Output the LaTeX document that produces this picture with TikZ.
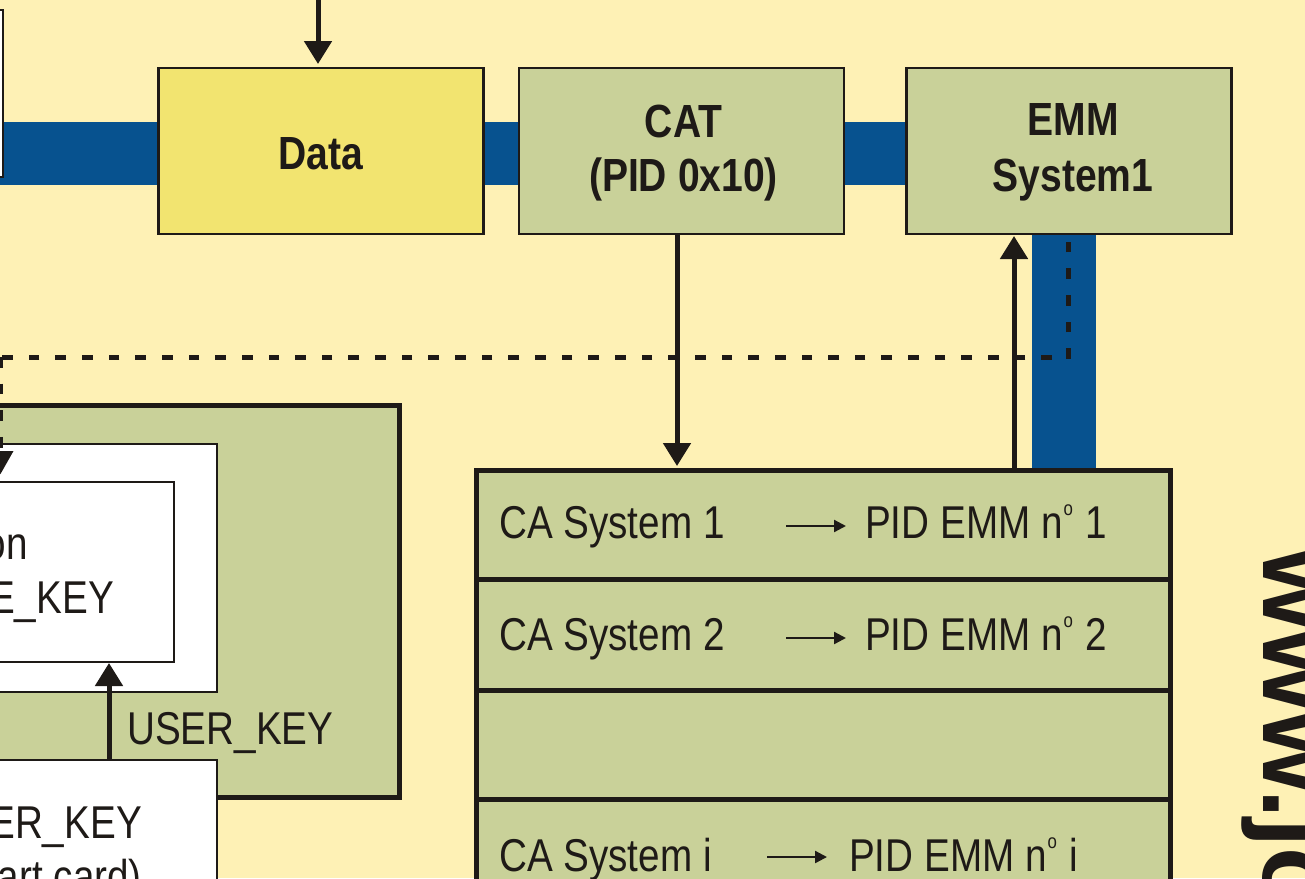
\documentclass[tikz,border=0pt]{standalone}
\usepackage{fontspec}
\setmainfont[FakeStretch=0.84]{Liberation Sans}
\newfontfamily\urlfont{Liberation Sans}
\usetikzlibrary{arrows.meta}
\definecolor{pagebg}{HTML}{FEF1B5}
\definecolor{sage}{HTML}{C9D199}
\definecolor{datay}{HTML}{F2E470}
\definecolor{bandblue}{HTML}{07528F}
\definecolor{ink}{HTML}{1E1A17}
\newcommand{\degsign}{\kern1pt\raisebox{22.5pt}{\fontsize{20}{20}\selectfont o}\kern2pt}
\tikzset{
  box/.style={draw=ink,line width=2.6pt,rectangle,inner sep=0pt,text=ink,align=center,font=\fontsize{46.5}{54}\selectfont\bfseries},
  panel/.style={draw=ink,rectangle,inner sep=0pt},
  txtlabel/.style={text=ink,inner sep=0pt,font=\fontsize{46}{54}\selectfont},
  band/.style={draw=none,fill=bandblue},
  flow/.style={draw=ink,line width=5pt,-{Triangle[length=23pt,width=27pt]}},
  smallarrow/.style={draw=ink,line width=2.3pt,-{Triangle[length=12pt,width=12pt]}},
  dashline/.style={draw=ink,line width=5pt,dash pattern=on 10.65pt off 16pt},
}
\begin{document}
\begin{tikzpicture}[x=1pt,y=-1pt]
\useasboundingbox (0,0) rectangle (1305,878);
\fill[pagebg] (0,0) rectangle (1305,878);
% bands
\fill[band] (0,122) rectangle (158,185);
\fill[band] (484,122) rectangle (519,185);
\fill[band] (845,122) rectangle (907,185);
\fill[band] (1032,234) rectangle (1096,470);
% top row
\node[box,fill=white,minimum width=106pt,minimum height=167pt] (src) at (-50,93.5) {};
\node[box,fill=datay,minimum width=325pt,minimum height=166pt] (data) at (321,151) {\rule{0pt}{38pt}Data};
\node[box,fill=sage,minimum width=325pt,minimum height=166pt] (cat) at (681.5,151) {\rule{0pt}{37pt}\hspace*{4pt}CAT\\\hspace*{4pt}(PID 0x10)};
\node[box,fill=sage,minimum width=325pt,minimum height=166pt] (emm) at (1069,151) {\rule{0pt}{35pt}\hspace*{8pt}EMM\\[2pt]\hspace*{8pt}System1};
\coordinate (feed) at (318,0);
% left panel
\node[panel,line width=5pt,fill=sage,minimum width=498pt,minimum height=392pt] (outer) at (150,601.5) {};
\node[panel,line width=2.6pt,fill=white,minimum width=500pt,minimum height=248pt] (mid) at (-33,568) {};
\node[panel,line width=2.6pt,fill=white,minimum width=400pt,minimum height=180pt] (inner) at (-26,572) {};
\node[panel,line width=2.6pt,fill=white,minimum width=500pt,minimum height=200pt] (card) at (-33,860) {};
\node[txtlabel,anchor=base east] (l1) at (28,559) {on};
\node[txtlabel,anchor=base east] (l2) at (114,613) {E\_KEY};
\node[txtlabel,anchor=base west] (l3) at (127,744) {USER\_KEY};
\node[txtlabel,anchor=base east] (l4) at (142,838) {ER\_KEY};
\node[txtlabel,anchor=base east] (l5) at (142,892) {art card)};
% table
\node[panel,line width=5pt,fill=sage,minimum width=694pt,minimum height=109pt] (r1) at (823,524.5) {};
\node[panel,line width=5pt,fill=sage,minimum width=694pt,minimum height=111pt] (r2) at (823,634.5) {};
\node[panel,line width=5pt,fill=sage,minimum width=694pt,minimum height=109pt] (r3) at (823,744.5) {};
\node[panel,line width=5pt,fill=sage,minimum width=694pt,minimum height=150pt] (r4) at (823,874) {};
\node[txtlabel,anchor=base west] (a1) at (499,538) {CA System 1};
\node[txtlabel,anchor=base west] (b1) at (865,538) {PID EMM n\degsign\ 1};
\node[txtlabel,anchor=base west] (a2) at (499,650) {CA System 2};
\node[txtlabel,anchor=base west] (b2) at (865,650) {PID EMM n\degsign\ 2};
\node[txtlabel,anchor=base west] (a3) at (499,871) {CA System i};
\node[txtlabel,anchor=base west] (b3) at (849,871) {PID EMM n\degsign\ i};
\draw[smallarrow] (786,526) -- (846,526);
\draw[smallarrow] (786,638) -- (846,638);
\draw[smallarrow] (767,857) -- (827,857);
% connectors
\draw[flow] (feed) -- (318,64);
\draw[flow] (677,234) -- (677,466);
\draw[flow] (1014,468) -- (1014,236);
\draw[flow] (109,760) -- (109,663);
\coordinate (dl) at (0.5,357);
\coordinate (dr) at (1052,357);
\coordinate (dc) at (1068,359);
\draw[dashline] (dr) -- (dl);
\draw[dashline] (dc) -- (1068,236);
\draw[dashline] (dl) -- (0.5,452);
\draw[draw=none,fill=ink] (-13.5,451) -- (13.5,451) -- (0.5,474) -- cycle;
% side url
\node[anchor=base west,rotate=-90,inner sep=0pt,text=ink,font=\urlfont\fontsize{105}{110}\selectfont\bfseries] (url) at (1263,548) {www.jo};
\end{tikzpicture}
\end{document}
